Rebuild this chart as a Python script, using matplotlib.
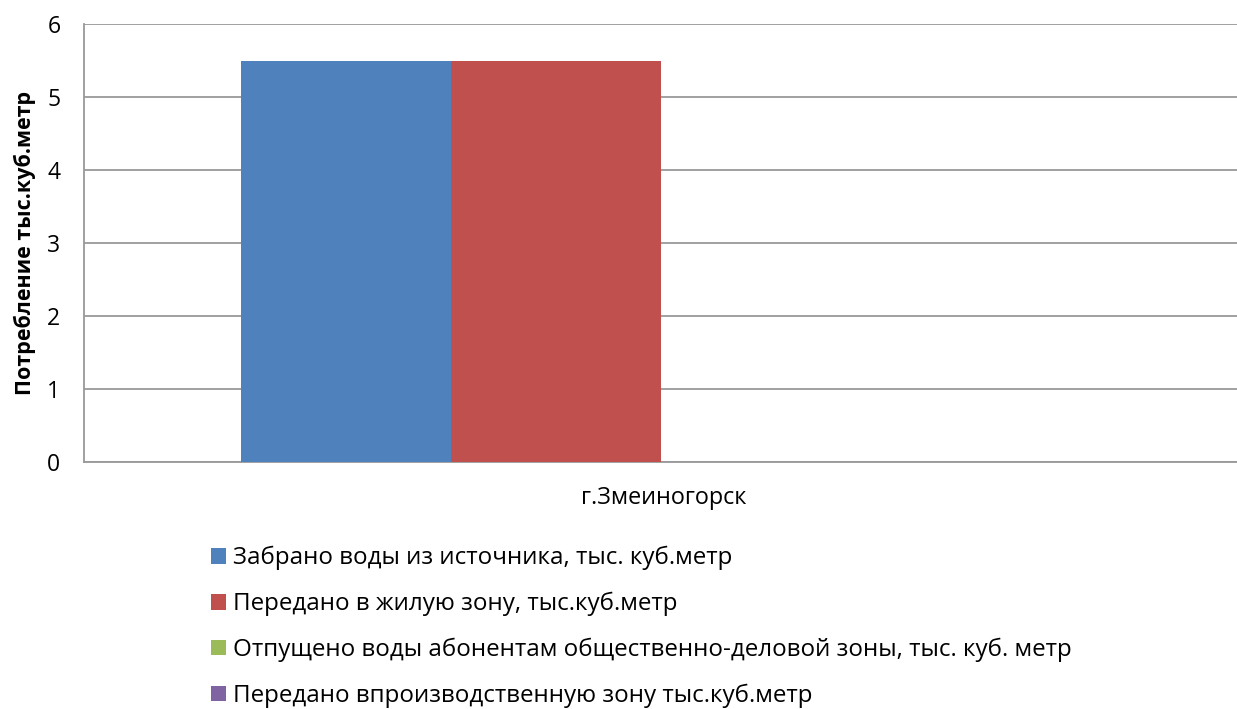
import matplotlib
matplotlib.use("Agg")
import matplotlib.pyplot as plt
from matplotlib.patches import Patch

plt.rcParams['font.family'] = ['Open Sans', 'DejaVu Sans']

categories = ["г.Змеиногорск"]
series_names = [
    "Забрано воды из источника, тыс. куб.метр",
    "Передано в жилую зону, тыс.куб.метр",
    "Отпущено воды абонентам общественно-деловой зоны, тыс. куб. метр",
    "Передано впроизводственную зону тыс.куб.метр",
]
series_values = [
    [5.5],
    [5.5],
    [0.0],
    [0.0],
]
colors = ["#4F81BD", "#C0504D", "#9BBB59", "#8064A2"]
y_ticks = [0, 1, 2, 3, 4, 5, 6]
y_label = "Потребление тыс.куб.метр"

W, H = 1237, 709
fig = plt.figure(figsize=(W / 100, H / 100), dpi=100)
ax = fig.add_axes([84 / W, 1 - 462 / H, (W - 84) / W, (462 - 24) / H])

n = len(series_names)
gap = 1.5
bw = 1.0 / (n + gap)
for i, (name, vals, c) in enumerate(zip(series_names, series_values, colors)):
    xs = [k - 0.5 + bw * (gap / 2) + bw * i + bw / 2 for k in range(len(categories))]
    ax.bar(xs, vals, width=bw, color=c, label=name, zorder=3)

ax.set_xlim(-0.5, len(categories) - 0.5)
ax.set_ylim(0, 6)
ax.set_yticks(y_ticks)
ax.set_yticklabels([str(t) for t in y_ticks], fontsize=16.5)
ax.yaxis.grid(True, color="#999999", linewidth=1.3, zorder=0)
ax.set_xticks([])
ax.tick_params(axis='y', length=0, pad=17)

for s in ["top", "right"]:
    ax.spines[s].set_visible(False)
for s in ["left", "bottom"]:
    ax.spines[s].set_color("#999999")
    ax.spines[s].set_linewidth(1.3)

ax.set_ylabel(y_label, fontsize=15.5, fontweight="bold", labelpad=8)

fig.text(664 / W, 1 - 498 / H, categories[0], ha="center", va="center", fontsize=16.8)

handles = [Patch(facecolor=c, edgecolor="none") for c in colors]
fig.legend(handles, series_names, loc="upper left", bbox_to_anchor=(211 / W, 1 - 546 / H),
           frameon=False, fontsize=17.4, handlelength=0.62, handleheight=0.62,
           handletextpad=0.28, labelspacing=0.89, borderpad=0, borderaxespad=0)

fig.savefig("out.png", dpi=100)
